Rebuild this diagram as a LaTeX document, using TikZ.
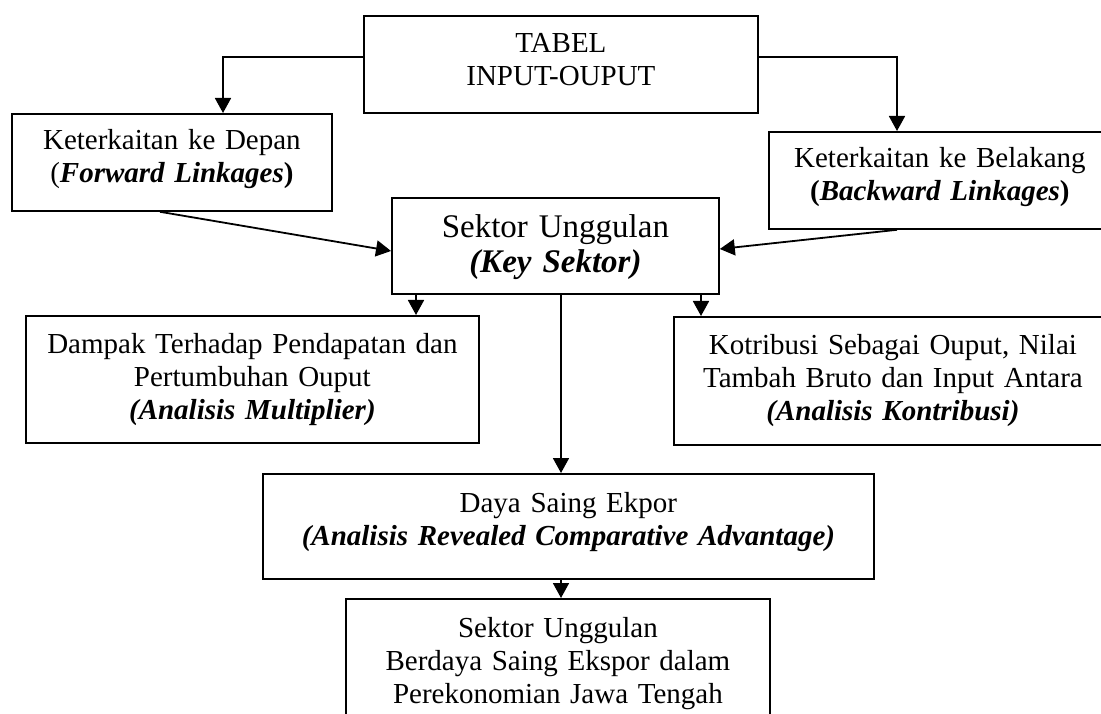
\documentclass[tikz,border=0pt]{standalone}
\usepackage{fontspec}
\setmainfont{Liberation Serif}
\usetikzlibrary{arrows.meta}
\begin{document}
\begin{tikzpicture}[x=1pt,y=-1pt,
  box/.style={draw, line width=1.8pt, inner sep=0pt, anchor=north west,
    align=center, font=\fontsize{29}{33}\selectfont},
  bigbox/.style={box, font=\fontsize{33}{35}\selectfont},
  arr/.style={line width=1.8pt, -{Triangle[length=15pt,width=16pt]}}]
\useasboundingbox (0,0) rectangle (1101,714);
\node[box, text width=394pt, text height=37pt, text depth=60pt] (tabel) at (363,15)
  {TABEL\\INPUT-OUPUT};
\node[box, text width=320pt, text height=36pt, text depth=61pt] (fwd) at (11,113)
  {Keterkaitan ke Depan\\(\textbf{\textit{Forward Linkages}}\textbf{)}};
\node[box, text width=342pt, text height=36pt, text depth=61pt] (bwd) at (768,131)
  {Keterkaitan ke Belakang\\\textbf{(\textit{Backward Linkages})}};
\node[bigbox, text width=327pt, text height=40pt, text depth=56pt] (key) at (391,197)
  {Sektor Unggulan\\\textbf{\textit{(Key Sektor)}}};
\node[box, text width=453pt, text height=38pt, text depth=89pt] (dampak) at (25,315)
  {Dampak Terhadap Pendapatan dan\\Pertumbuhan Ouput\\\textbf{\textit{(Analisis Multiplier)}}};
\node[box, text width=438pt, text height=38pt, text depth=90pt] (kontrib) at (673,316)
  {Kotribusi Sebagai Ouput, Nilai\\Tambah Bruto dan Input Antara\\\textbf{\textit{(Analisis Kontribusi)}}};
\node[box, text width=611pt, text height=39pt, text depth=66pt] (daya) at (262,473)
  {Daya Saing Ekpor\\\textbf{\textit{(Analisis Revealed Comparative Advantage)}}};
\node[box, text width=424pt, text height=39pt, text depth=103pt] (final) at (345,598)
  {Sektor Unggulan\\Berdaya Saing Ekspor dalam\\Perekonomian Jawa Tengah};
\draw[arr] (tabel.west |- 0,57) -| (fwd.north -| 223,0);
\draw[arr] (tabel.east |- 0,57) -| (bwd.north -| 897,0);
\draw[arr] (fwd.south -| 160,0) -- (key.west |- 0,251);
\draw[arr] (bwd.south -| 897,0) -- (key.east |- 0,249);
\draw[arr] (key.south -| 416,0) -- (dampak.north -| 416,0);
\draw[arr] (key.south -| 701,0) -- (kontrib.north -| 701,0);
\draw[arr] (key.south -| 561,0) -- (daya.north -| 561,0);
\draw[arr] (daya.south -| 561,0) -- (final.north -| 561,0);
\end{tikzpicture}
\end{document}
